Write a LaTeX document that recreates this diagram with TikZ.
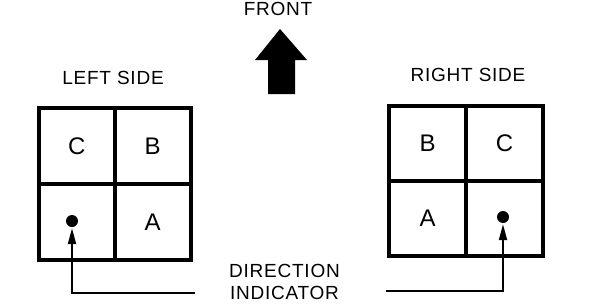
\documentclass[tikz,border=0pt]{standalone}
\usepackage{fontspec}
\setmainfont{Liberation Sans}
\usetikzlibrary{arrows.meta,positioning}
\begin{document}
\begin{tikzpicture}[x=1pt,y=-1pt,>={Triangle[length=16pt,width=8pt]},
cell/.style={draw,line width=4pt,outer sep=0pt,minimum width=76pt,minimum height=76pt,font=\fontsize{24}{24}\selectfont},
rcell/.style={cell,minimum width=77pt,minimum height=75pt},
title/.style={font=\fontsize{19}{22}\selectfont\addfontfeature{LetterSpace=4},align=center,inner sep=0pt},
spot/.style={circle,fill,inner sep=0pt,minimum size=12pt},
lead/.style={->,line width=2pt,shorten >=1pt}]
\useasboundingbox (0,0) rectangle (608,308);
% front marker
\node[title] (front) at (278,9) {FRONT};
\fill (280,29) -- (307,60) -- (295,60) -- (295,94) -- (268,94) -- (268,60) -- (255,60) -- cycle;
% left side
\node[title] (lefttitle) at (113,78) {LEFT SIDE};
\node[cell] (lc) at (76.7,146) {C};
\node[cell,right=0pt of lc] (lb) {B};
\node[cell,below=0pt of lc] (ldot) {};
\node[cell,below=0pt of lb] (la) {A};
\node[spot] (lspot) at (72,221) {};
% right side
\node[title] (righttitle) at (468,75) {RIGHT SIDE};
\node[rcell] (rb) at (427.5,143.5) {B};
\node[rcell,right=0pt of rb] (rc) {C};
\node[rcell,below=0pt of rb] (ra) {A};
\node[rcell,below=0pt of rc] (rdot) {};
\node[spot] (rspot) at (503,217) {};
% indicator leads
\node[title] (indicator) at (284.5,282) {DIRECTION\\INDICATOR};
\coordinate (lfree) at (195,293);
\coordinate (rfree) at (386,291);
\draw[lead] (lfree) -| (lspot);
\draw[lead] (rfree) -| (rspot);
\end{tikzpicture}
\end{document}
